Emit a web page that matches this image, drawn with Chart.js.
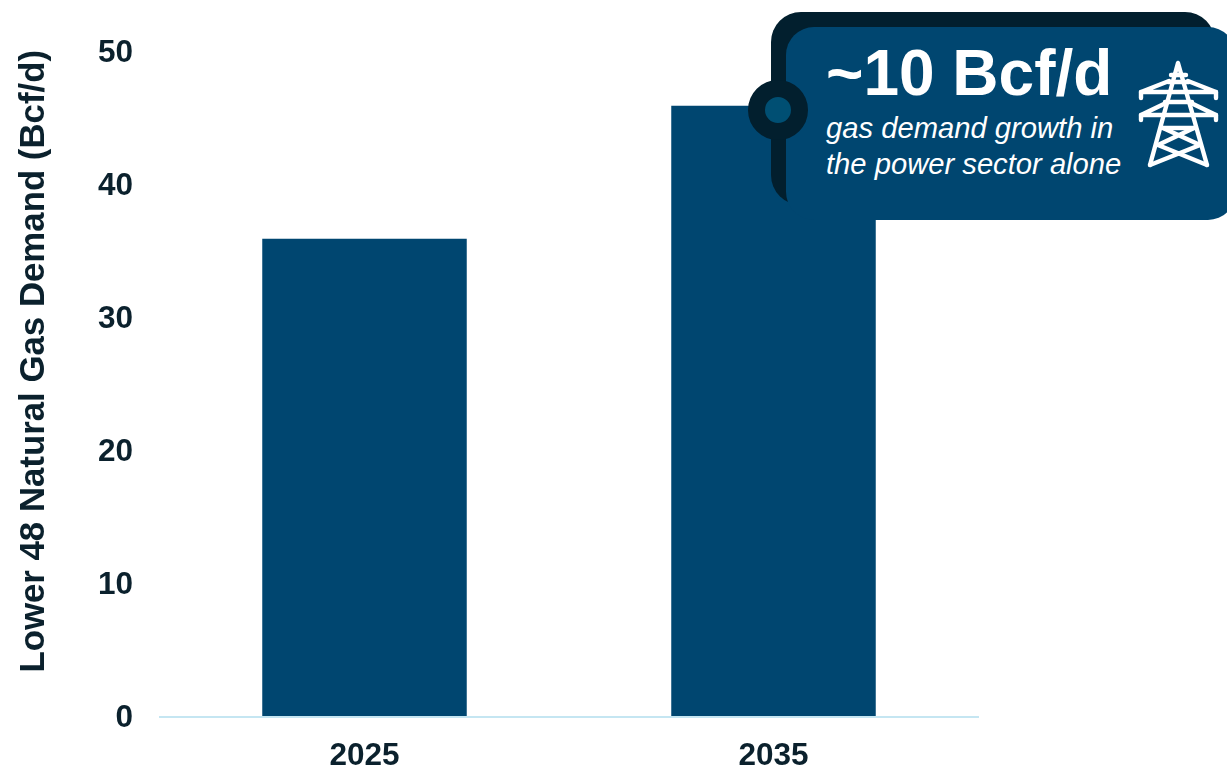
<!DOCTYPE html>
<html lang="en">
<head>
  <meta charset="UTF-8" />
  <title>Lower 48 Natural Gas Demand</title>
  <script src="https://cdn.jsdelivr.net/npm/chart.js"></script>
  <style>
    html, body { margin: 0; padding: 0; background: #fff; overflow: hidden; }
    #wrap { position: relative; width: 1227px; height: 765px; overflow: hidden; font-family: 'Liberation Sans', Arial, sans-serif; }
    #demandChart { position: absolute; left: 0; top: 0; }
    .tab { position: absolute; left: 771px; top: 12px; width: 444px; height: 193px; border-radius: 30px; background: #021f2e; }
    .box { position: absolute; left: 786px; top: 27px; width: 450px; height: 193px; border-radius: 28px; background: #004670; color: #fff; }
    .ring { position: absolute; left: 748px; top: 80px; width: 26px; height: 26px; border: 17px solid #021f2e; border-radius: 50%; background: #004f73; }
    .big { position: absolute; left: 826px; top: 36px; font-size: 64px; line-height: 74px; font-weight: bold; color: #fff; white-space: nowrap; }
    .sub { position: absolute; left: 826px; top: 111px; font-size: 29.2px; line-height: 35.5px; font-style: italic; color: #fff; white-space: nowrap; }
    svg { position: absolute; left: 1130px; top: 50px; }
  </style>
</head>
<body>
<div id="wrap">
  <canvas id="demandChart" width="1227" height="765"></canvas>
  <div class="tab"></div>
  <div class="box"></div>
  <div class="ring"></div>
  <div class="big">~10 Bcf/d</div>
  <div class="sub">gas demand growth in<br>the power sector alone</div>
  <!-- transmission tower icon -->
  <svg width="97" height="125" viewBox="0 0 97 125" fill="none" stroke="#fff" stroke-width="4.4" stroke-linejoin="round" stroke-linecap="round">
    <path d="M48 13 L20 115 M48 13 L77 115" />
    <path d="M41 25 H56 M38 32 H59 M35 52 H62 M33 78 H64" />
    <path d="M39 31 L11 42 H86 L58 31" />
    <path d="M36 53 L11 65 H86 L61 53" />
    <path d="M11 42 V48 M86 42 V48 M11 65 V70 M86 65 V70" />
    <path d="M33 78 L70 95 M64 78 L28 95 M28 95 L77 115 M70 95 L20 115" />
  </svg>
</div>
<script>
const categories = ['2025', '2035'];
const demandValues = [36, 46];
const yTicks = [0, 10, 20, 30, 40, 50];

const textColor = '#0b212d';
const barColor = '#004670';

new Chart(document.getElementById('demandChart').getContext('2d'), {
  type: 'bar',
  data: {
    labels: categories,
    datasets: [{
      data: demandValues,
      backgroundColor: barColor,
      categoryPercentage: 1,
      barPercentage: 0.5
    }]
  },
  options: {
    responsive: false,
    animation: false,
    layout: { padding: { left: 14, right: 249, top: 50, bottom: 0 } },
    plugins: { legend: { display: false }, tooltip: { enabled: false } },
    scales: {
      x: {
        grid: { display: false, drawTicks: false },
        border: { color: '#c5e6f2', width: 2, z: 1 },
        ticks: { color: textColor, font: { family: 'Liberation Sans', size: 31.5, weight: 'bold' }, padding: 20, maxRotation: 0 },
        afterFit: scale => { scale.height = 48; }
      },
      y: {
        min: 0,
        // a little headroom above the top tick, the long axis title ends at the same height
        max: 50.2,
        afterBuildTicks: scale => { scale.ticks = yTicks.map(value => ({ value })); },
        grid: { display: false, drawTicks: false },
        border: { display: false },
        ticks: { color: textColor, font: { family: 'Liberation Sans', size: 31.5, weight: 'bold' }, padding: 27, labelOffset: 1 },
        title: {
          display: true,
          text: 'Lower 48 Natural Gas Demand (Bcf/d)',
          align: 'end',
          color: textColor,
          font: { family: 'Liberation Sans', size: 34.8, weight: 'bold' },
          padding: 0
        },
        afterFit: scale => { scale.width = 146; }
      }
    }
  }
});
</script>
</body>
</html>
